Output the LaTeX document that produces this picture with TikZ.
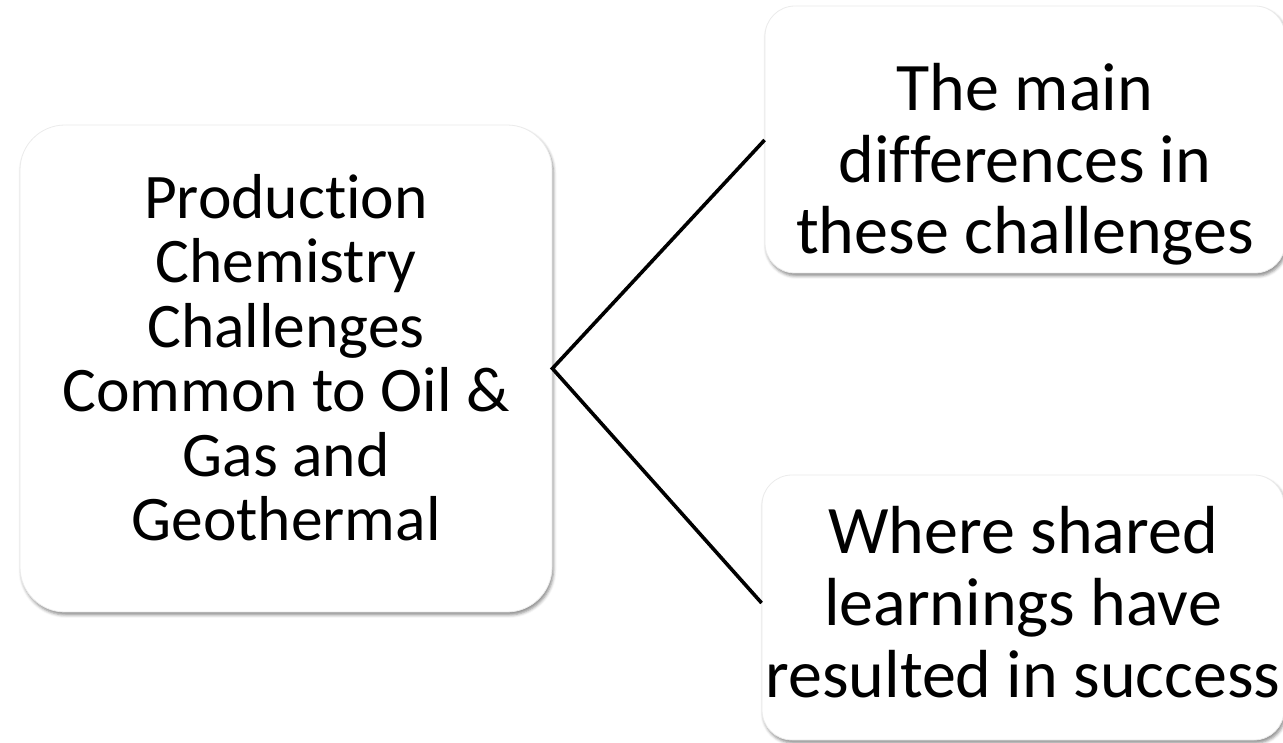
\documentclass[tikz,border=0pt]{standalone}
\usepackage{fontspec}
\setmainfont{Carlito}[Ligatures=NoCommon]
\usetikzlibrary{shadows.blur}
\begin{document}
\begin{tikzpicture}[x=1pt,y=1pt,
  card/.style={draw=black!8, line width=0.8pt, fill=white, rounded corners=#1,
    blur shadow={shadow xshift=1.5pt, shadow yshift=-3pt, shadow blur radius=3pt, shadow opacity=45},
    inner sep=0pt},
  cardtext/.style={align=center, inner sep=0pt},
  link/.style={line width=3.6pt, black}]
\useasboundingbox (0,0) rectangle (1283,742);
% left box: x 20..552, y 125..612 (image coords)
\node[card=45pt, minimum width=532pt, minimum height=487pt] (main) at (286,{742-368.5}) {};
\node[cardtext, font=\fontsize{63.5}{64.5}\selectfont] (mainText) at ([yshift=11pt]main.center)
  {Production\\Chemistry\\Challenges\\Common to Oil \&\\Gas and\\Geothermal};
% top right: x 765..1283, y 6..273
\node[card=30pt, minimum width=520pt, minimum height=267pt] (diff) at (1025,{742-139.5}) {};
\node[cardtext, font=\fontsize{68}{71.5}\selectfont] (diffText) at ([yshift=-25pt]diff.center)
  {The main\\differences in\\these challenges};
% bottom right: x 762..1283, y 475..740
\node[card=30pt, minimum width=522pt, minimum height=265pt] (learn) at (1023,{742-607.5}) {};
\node[cardtext, font=\fontsize{68}{72}\selectfont] (learnText) at ([yshift=5pt]learn.center)
  {Where shared\\learnings have\\resulted in success};
\coordinate (apex) at (main.east);
\draw[link] (diff.west |- 0,{742-140}) -- (apex) -- (learn.west |- 0,{742-603});
\end{tikzpicture}
\end{document}
